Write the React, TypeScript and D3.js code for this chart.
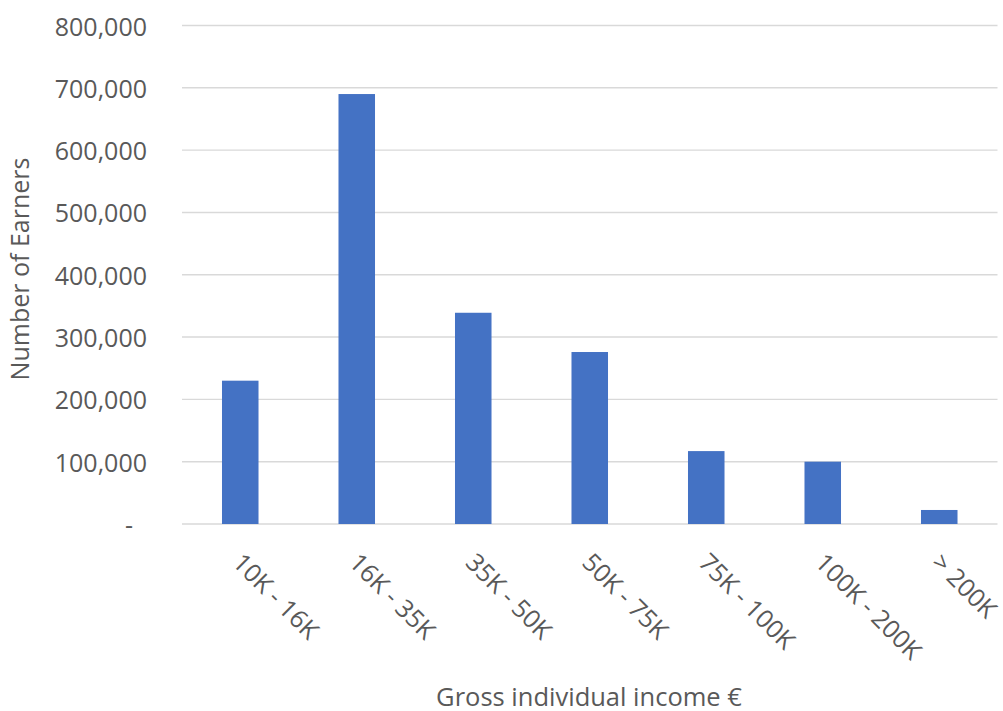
import React from "react";
import * as d3 from "d3";

const categories = ["10K - 16K", "16K - 35K", "35K - 50K", "50K - 75K", "75K - 100K", "100K - 200K", "> 200K"];
const earners = [230000, 690000, 339000, 276000, 117000, 100000, 22500];
const yTicks = [0, 100000, 200000, 300000, 400000, 500000, 600000, 700000, 800000];

const W = 1003;
const H = 711;
const left = 182;
const right = 997.5;
const top = 25.5;
const bottom = 524;
const FONT = "'Open Sans', 'DejaVu Sans', sans-serif";
const TEXT = "#595959";

export default function App() {
  const x = d3.scaleBand<string>().domain(categories).range([left, right]).paddingInner(0).paddingOuter(0);
  const y = d3.scaleLinear().domain([0, 800000]).range([bottom, top]);
  const barW = x.bandwidth() / 3.19;
  const fmt = d3.format(",");

  return (
    <svg width={W} height={H} style={{ position: "absolute", left: 0, top: 0, background: "#fff" }}>
      <g>
        {yTicks.map((t) => (
          <line key={t} x1={left} x2={right} y1={y(t)} y2={y(t)} stroke="#d9d9d9" strokeWidth={1.4} />
        ))}
      </g>
      <g fontFamily={FONT} fontSize={25} fill={TEXT}>
        {yTicks.map((t) => (
          <text key={t} x={t === 0 ? 133 : 147} y={y(t)} textAnchor="end" dominantBaseline="central">
            {t === 0 ? "-" : fmt(t)}
          </text>
        ))}
      </g>
      <g>
        {earners.map((v, i) => {
          const c = categories[i];
          const cx = (x(c) as number) + x.bandwidth() / 2;
          return <rect key={c} x={cx - barW / 2} y={y(v)} width={barW} height={y(0) - y(v)} fill="#4472C4" />;
        })}
      </g>
      <g fontFamily={FONT} fontSize={25} fill={TEXT}>
        {categories.map((c) => {
          const cx = (x(c) as number) + x.bandwidth() / 2;
          return (
            <text key={c} transform={`translate(${cx - 2},${557}) rotate(45)`} textAnchor="start" dominantBaseline="central">
              {c}
            </text>
          );
        })}
      </g>
      <text x={589} y={705.5} textAnchor="middle" fontFamily={FONT} fontSize={25.5} fill={TEXT}>
        Gross individual income €
      </text>
      <text
        transform={`translate(19,${269}) rotate(-90)`}
        textAnchor="middle"
        fontFamily={FONT}
        fontSize={25}
        fill={TEXT}
        dominantBaseline="central"
      >
        Number of Earners
      </text>
    </svg>
  );
}
